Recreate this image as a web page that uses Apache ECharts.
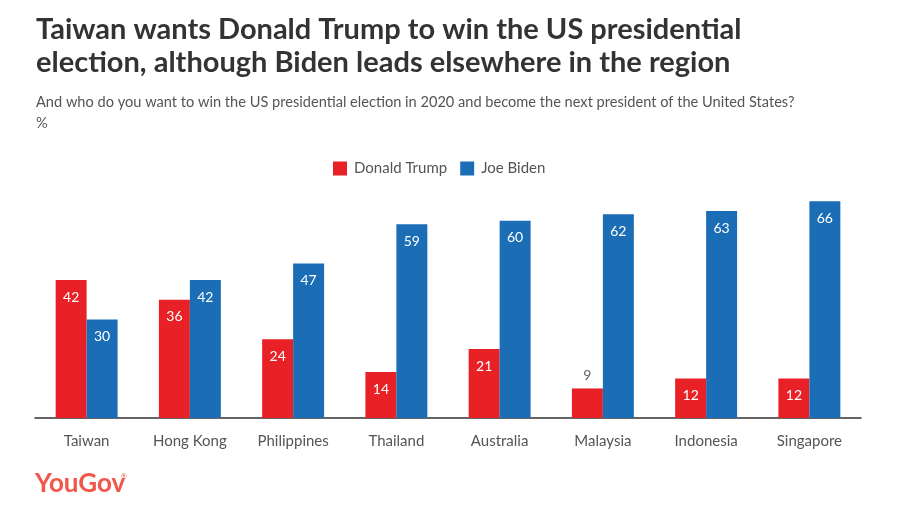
<!DOCTYPE html>
<html><head><meta charset="utf-8">
<script src="https://cdn.jsdelivr.net/npm/echarts@6/dist/echarts.min.js"></script>
<style>html,body{margin:0;padding:0;background:#fff}#c{width:912px;height:518px}</style>
</head><body><div id="c"></div>
<script>
const categories = ['Taiwan','Hong Kong','Philippines','Thailand','Australia','Malaysia','Indonesia','Singapore'];
const trump = [42,36,24,14,21,9,12,12];
const biden = [30,42,47,59,60,62,63,66];
const seriesNames = ['Donald Trump','Joe Biden'];
const titleText = 'Taiwan wants Donald Trump to win the US presidential\nelection, although Biden leads elsewhere in the region';
const subText = 'And who do you want to win the US presidential election in 2020 and become the next president of the United States?\n%';

const FONT = 'Lato';
function mk(vals){
  return vals.map(v => v < 10 ? {value:v, label:{position:'top', color:'#666', distance:6}} : v);
}
const chart = echarts.init(document.getElementById('c'));
chart.setOption({
  animation:false,
  textStyle:{fontFamily:FONT},
  title:{
    text:titleText, subtext:subText, left:36, top:13, padding:0,
    textStyle:{fontFamily:FONT, fontSize:29, fontWeight:'bold', color:'#333', lineHeight:33},
    subtextStyle:{fontFamily:FONT, fontSize:14.6, color:'#555', lineHeight:21},
    itemGap:13
  },
  legend:{
    data:seriesNames, top:156, left:328, icon:'rect', itemWidth:14, itemHeight:14, itemGap:13,
    textStyle:{fontFamily:FONT, fontSize:15, color:'#555', padding:[0,0,0,2]}
  },
  grid:{left:35, right:51, top:188, bottom:100},
  xAxis:{
    type:'category', data:categories,
    axisLine:{lineStyle:{color:'#333', width:1.5}},
    axisTick:{show:false},
    axisLabel:{fontFamily:FONT, fontSize:15, color:'#555', margin:16}
  },
  yAxis:{type:'value', min:0, max:70, show:false, splitLine:{show:false}},
  series:[
    {name:seriesNames[0], type:'bar', data:mk(trump), barGap:'0%', barCategoryGap:'40%',
     itemStyle:{color:'#E82127'},
     label:{show:true, position:'insideTop', distance:10, color:'#fff', fontFamily:FONT, fontSize:14}},
    {name:seriesNames[1], type:'bar', data:mk(biden), barGap:'0%', barCategoryGap:'40%',
     itemStyle:{color:'#1B6DB5'},
     label:{show:true, position:'insideTop', distance:10, color:'#fff', fontFamily:FONT, fontSize:14}}
  ],
  graphic:[{type:'text', left:35, top:471, style:{text:'YouGov', fill:'#F0564A', font:'bold 26px '+FONT}},
           {type:'text', left:121, top:473, style:{text:'®', fill:'#F0564A', font:'7px '+FONT}}]
});
</script></body></html>
